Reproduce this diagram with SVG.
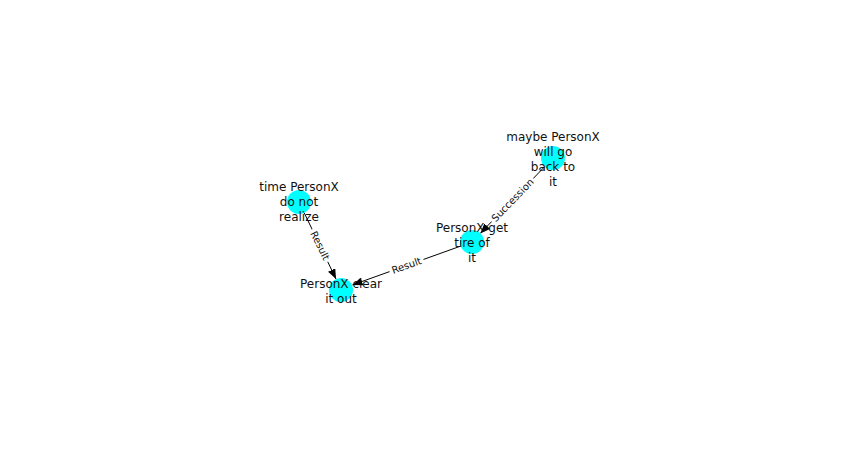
<svg xmlns="http://www.w3.org/2000/svg" width="851" height="449" viewBox="0 0 851 449">
<defs>
<style>
.node circle{fill:#00ffff;stroke:none}
.node text{font-family:"DejaVu Sans",sans-serif;font-size:12px;fill:#111;text-anchor:middle}
.edge line{stroke:#000;stroke-width:1}
.elabel text{font-family:"DejaVu Sans",sans-serif;font-size:10px;fill:#111;text-anchor:middle;dominant-baseline:central}
.elabel rect{fill:#fff;stroke:none}
</style>
<marker id="arr" viewBox="0 0 10 8" refX="10" refY="4" markerWidth="10" markerHeight="8" markerUnits="userSpaceOnUse" orient="auto">
<path d="M0,0 L10,4 L0,8 Z" fill="#000"/>
</marker>
</defs>
<rect width="851" height="449" fill="#fff"/>
<g id="connectors">
<g class="edge"><line x1="544.7" y1="166.6" x2="480.3" y2="233.4" marker-end="url(#arr)"/></g>
<g class="edge"><line x1="304.2" y1="212.8" x2="336" y2="279" marker-end="url(#arr)"/></g>
<g class="edge"><line x1="460.7" y1="246.1" x2="352.5" y2="284.9" marker-end="url(#arr)"/></g>
<g class="elabel" transform="translate(512.5,200) rotate(-46)"><rect x="-30" y="-7" width="60" height="14"/><text x="0" y="0">Succession</text></g>
<g class="elabel" transform="translate(320,245.5) rotate(64)"><rect x="-18" y="-7" width="36" height="14"/><text x="0" y="0">Result</text></g>
<g class="elabel" transform="translate(406.5,265.5) rotate(-19.7)"><rect x="-18" y="-7" width="36" height="14"/><text x="0" y="0">Result</text></g>
</g>
<g id="n_maybe" class="node"><circle cx="553" cy="158" r="12"/>
<text x="553" y="140.5">maybe PersonX</text><text x="553" y="155.5">will go</text><text x="553" y="170.5">back to</text><text x="553" y="185.5">it</text></g>
<g id="n_get" class="node"><circle cx="472" cy="242" r="12"/>
<text x="472" y="231.5">PersonX get</text><text x="472" y="246.5">tire of</text><text x="472" y="261.5">it</text></g>
<g id="n_time" class="node"><circle cx="299" cy="202" r="12"/>
<text x="299" y="190.5">time PersonX</text><text x="299" y="205.5">do not</text><text x="299" y="220.5">realize</text></g>
<g id="n_clear" class="node"><circle cx="341" cy="290" r="12"/>
<text x="341" y="287.5">PersonX clear</text><text x="341" y="302.5">it out</text></g>
</svg>
